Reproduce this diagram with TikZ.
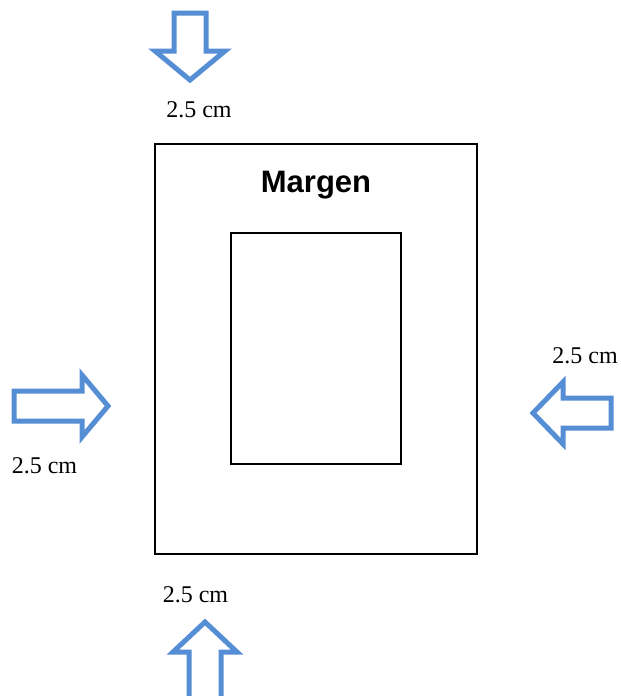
\documentclass[tikz,border=0pt]{standalone}
\usepackage{fontspec}
\setmainfont{Liberation Serif}
\setsansfont{Liberation Sans}
\usetikzlibrary{
    arrows.meta,
    positioning
}
\definecolor{azulflecha}{RGB}{85,142,213}

\begin{document}
\begin{tikzpicture}[x=1pt,y=-1pt,
    flecha/.style={draw=azulflecha,line width=5pt,line join=miter,fill=white},
    caja/.style={draw=black,line width=1.8pt,inner sep=0pt},
    medida/.style={anchor=base,inner sep=0pt,font=\fontsize{24}{28}\selectfont}]
    \useasboundingbox (0,0) rectangle (621,696);

    \node[caja,minimum width=322pt,minimum height=410pt] (hoja)  at (316,349) {};
    \node[caja,minimum width=170pt,minimum height=231pt] (texto) at (316,348.5) {};
    \node[anchor=base,inner sep=0pt,font=\sffamily\bfseries\fontsize{31}{36}\selectfont]
        (margen) at (316,192) {Margen};

    % flechas
    \draw[flecha] (174,13) -- (206,13) -- (206,51) -- (225,51) -- (190,80)
                  -- (155,51) -- (174,51) -- cycle;
    \draw[flecha] (14,391) -- (82,391) -- (82,375) -- (108,406) -- (82,437)
                  -- (82,421) -- (14,421) -- cycle;
    \draw[flecha] (611,398) -- (563,398) -- (563,382) -- (533,413) -- (563,444)
                  -- (563,428) -- (611,428) -- cycle;
    \draw[flecha] (189,700) -- (189,652) -- (173,652) -- (205,622) -- (237,652)
                  -- (221,652) -- (221,700);

    \node[medida] (arriba)    at (199,117)   {2.5 cm};
    \node[medida] (izquierda) at (44.5,473)  {2.5 cm};
    \node[medida] (derecha)   at (585,363)   {2.5 cm};
    \node[medida] (abajo)     at (195.5,602) {2.5 cm};
\end{tikzpicture}
\end{document}
